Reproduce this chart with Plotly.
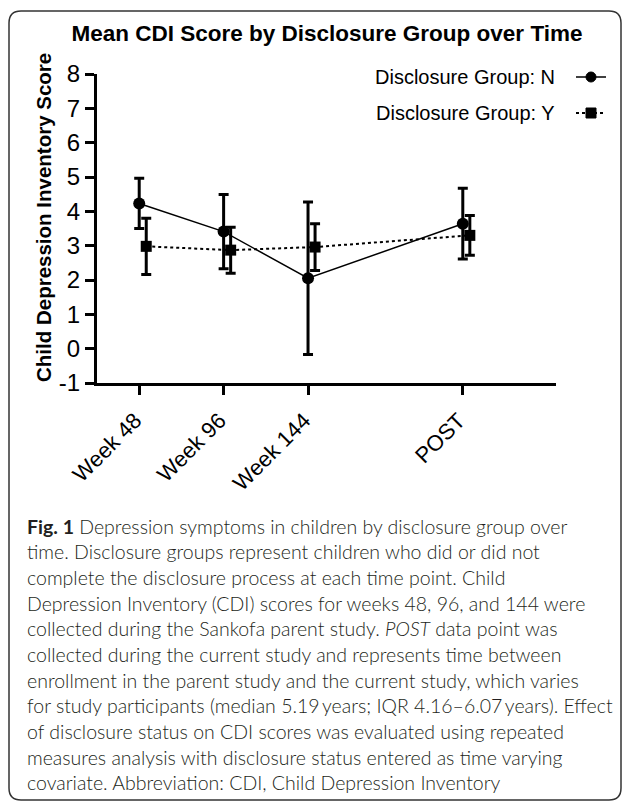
import plotly.graph_objects as go

# ---------------- data ----------------
time_labels = ["Week 48", "Week 96", "Week 144", "POST"]
time_pos = [48, 96, 144, 232]          # x positions on the time axis
n_mean = [4.23, 3.41, 2.05, 3.64]      # Disclosure Group: N
n_err = [0.73, 1.08, 2.22, 1.03]
y_mean = [2.98, 2.87, 2.96, 3.30]      # Disclosure Group: Y
y_err = [0.82, 0.67, 0.68, 0.58]
group_names = ["Disclosure Group: N", "Disclosure Group: Y"]
y_ticks = [-1, 0, 1, 2, 3, 4, 5, 6, 7, 8]
y_ticktext = ["-1", "0", "1", "2", "3", "4", "5", "6", "7", "8"]

title_text = "Mean CDI Score by Disclosure Group over Time"
ytitle_text = "Child Depression Inventory Score"
caption_lines = [
    "<b>Fig. 1</b> Depression symptoms in children by disclosure group over",
    "time. Disclosure groups represent children who did or did not",
    "complete the disclosure process at each time point. Child",
    "Depression Inventory (CDI) scores for weeks 48, 96, and 144 were",
    "collected during the Sankofa parent study. <i>POST</i> data point was",
    "collected during the current study and represents time between",
    "enrollment in the parent study and the current study, which varies",
    "for study participants (median 5.19\u2009years; IQR 4.16\u20136.07\u2009years). Effect",
    "of disclosure status on CDI scores was evaluated using repeated",
    "measures analysis with disclosure status entered as time varying",
    "covariate. Abbreviation: CDI, Child Depression Inventory",
]

# ---------------- layout geometry (pixels) ----------------
W, H = 627, 806
L, R, T, B = 97, 556, 74, 383
PW, PH = R - L, B - T
FONT = "Arial, 'Liberation Sans', Helvetica, sans-serif"
CAP_FONT = "Lato, 'Open Sans', sans-serif"


def px(x):
    return (x - L) / PW


def py(y):
    return (B - y) / PH


y_offset = 4  # small horizontal dodge for group Y
y_x = [p + y_offset for p in time_pos]

fig = go.Figure()
fig.add_trace(go.Scatter(
    x=time_pos, y=n_mean, name=group_names[0], mode="lines+markers",
    line=dict(color="black", width=1.5),
    marker=dict(symbol="circle", size=12, color="black"),
    error_y=dict(type="data", array=n_err, visible=True, color="black",
                 thickness=3, width=5),
    showlegend=False, cliponaxis=False,
))
fig.add_trace(go.Scatter(
    x=y_x, y=y_mean, name=group_names[1], mode="lines+markers",
    line=dict(color="black", width=2, dash="dot"),
    marker=dict(symbol="square", size=11, color="black"),
    error_y=dict(type="data", array=y_err, visible=True, color="black",
                 thickness=3, width=5),
    showlegend=False, cliponaxis=False,
))

axis_common = dict(
    showline=True, linecolor="black", linewidth=3,
    ticks="outside", ticklen=9, tickwidth=3, tickcolor="black",
    showgrid=False, zeroline=False,
)
fig.update_xaxes(range=[24, 285], tickmode="array", tickvals=time_pos,
                 ticktext=time_labels, tickangle=-45,
                 tickfont=dict(family=FONT, size=22, color="black"),
                 ticklabelshift=-4, ticklabelstandoff=4, **axis_common)
fig.update_yaxes(range=[-1, 8], tickmode="array", tickvals=y_ticks,
                 ticktext=y_ticktext,
                 tickfont=dict(family=FONT, size=24, color="black"),
                 **axis_common)

annotations = []
# y-axis title
annotations.append(dict(
    text="<b>" + ytitle_text + "</b>", x=px(43), y=py(218), xref="paper",
    yref="paper", textangle=-90, showarrow=False,
    font=dict(family=FONT, size=20.5, color="black"),
    xanchor="center", yanchor="middle"))
# legend texts
for name, ly in zip(group_names, [77, 113]):
    annotations.append(dict(
        text=name, x=px(557), y=py(ly), xref="paper", yref="paper",
        xanchor="right", yanchor="middle", showarrow=False,
        font=dict(family=FONT, size=20, color="black")))
# caption
for i, line in enumerate(caption_lines):
    annotations.append(dict(
        text=line, x=px(25), y=py(526 + i * 25.7), xref="paper", yref="paper",
        xanchor="left", yanchor="middle", showarrow=False,
        font=dict(family=CAP_FONT, size=19.5, color="#231f20", weight=300)))

shapes = []
# legend keys
shapes.append(dict(type="line", xref="paper", yref="paper", x0=px(576), x1=px(606),
                   y0=py(77), y1=py(77), line=dict(color="black", width=1.5)))
shapes.append(dict(type="circle", xref="paper", yref="paper", x0=px(586), x1=px(596),
                   y0=py(72), y1=py(82), fillcolor="black", line=dict(color="black", width=1)))
shapes.append(dict(type="line", xref="paper", yref="paper", x0=px(576), x1=px(606),
                   y0=py(113), y1=py(113), line=dict(color="black", width=2, dash="dot")))
shapes.append(dict(type="rect", xref="paper", yref="paper", x0=px(586), x1=px(596),
                   y0=py(108), y1=py(118), fillcolor="black", line=dict(color="black", width=1)))

# rounded frame
fx0, fx1, fy0, fy1, rr = 9, 621, 11, 800, 12
path = (
    f"M {px(fx0 + rr)} {py(fy0)} L {px(fx1 - rr)} {py(fy0)} "
    f"Q {px(fx1)} {py(fy0)} {px(fx1)} {py(fy0 + rr)} "
    f"L {px(fx1)} {py(fy1 - rr)} Q {px(fx1)} {py(fy1)} {px(fx1 - rr)} {py(fy1)} "
    f"L {px(fx0 + rr)} {py(fy1)} Q {px(fx0)} {py(fy1)} {px(fx0)} {py(fy1 - rr)} "
    f"L {px(fx0)} {py(fy0 + rr)} Q {px(fx0)} {py(fy0)} {px(fx0 + rr)} {py(fy0)} Z"
)
shapes.append(dict(type="path", path=path, xref="paper", yref="paper",
                   line=dict(color="#333333", width=1.5), layer="below"))

fig.update_layout(
    width=W, height=H,
    margin=dict(l=L, r=W - R, t=T, b=H - B, autoexpand=False),
    paper_bgcolor="white", plot_bgcolor="white",
    title=dict(text="<b>" + title_text + "</b>", x=327 / W, xref="container",
               xanchor="center", y=1 - 33 / H, yref="container", yanchor="middle",
               font=dict(family=FONT, size=22.5, color="black")),
    annotations=annotations, shapes=shapes,
    showlegend=False,
)

fig.write_html("out.html", config={"displayModeBar": False},
               post_script="document.body.style.margin='0';")
